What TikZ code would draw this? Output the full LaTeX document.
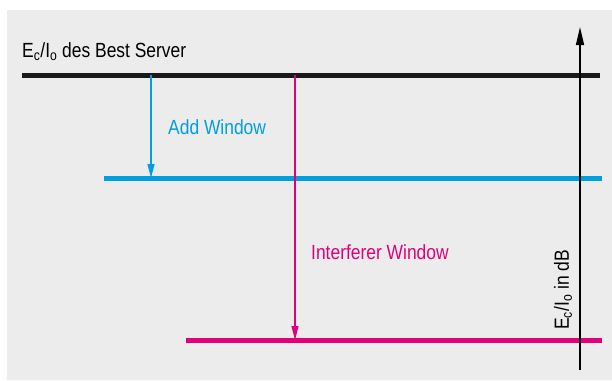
\documentclass[tikz,border=0pt]{standalone}
\usepackage{fontspec}
\setmainfont{Liberation Sans}[FakeStretch=0.85]
\usepackage{tikz}
\usetikzlibrary{arrows.meta}
\definecolor{bggray}{HTML}{ECECEC}
\definecolor{addblue}{HTML}{009FDF}
\definecolor{intmagenta}{HTML}{E2007A}
\tikzset{
    level/.style={line width=5pt},
    window/.style={line width=1.1pt, -{Triangle[length=14pt,width=7pt]}},
    lbl/.style={font=\fontsize{20.5}{20.5}\selectfont, inner sep=0pt}
}

\begin{document}
\begin{tikzpicture}[x=1pt,y=-1pt]
                %Background
                \fill[white] (0,0) rectangle (612,380);
                \fill[bggray] (7,10) rectangle (612,380);

                %Nodes
                \coordinate (bs1)  at (22,75);
                \coordinate (bs2)  at (600,75);
                \coordinate (add1) at (104,178);
                \coordinate (add2) at (602,178);
                \coordinate (int1) at (186,340);
                \coordinate (int2) at (602,340);
                \coordinate (addtop) at (151,75);
                \coordinate (addbot) at (151,178);
                \coordinate (inttop) at (295,75);
                \coordinate (intbot) at (295,340);
                \coordinate (axbot) at (580,370);
                \coordinate (axtop) at (580,27);

                \node[lbl, anchor=west] at (22,52) (bestlbl) {E\textsubscript{c}/I\textsubscript{o} des Best Server};
                \node[lbl, anchor=west, text=addblue] at (168,127) (addlbl) {Add Window};
                \node[lbl, anchor=west, text=intmagenta] at (311,252) (intlbl) {Interferer Window};
                \node[lbl, rotate=90] at (563,290) (axlbl) {E\textsubscript{c}/I\textsubscript{o} in dB};

                %Lines
                \draw[level, black!90] (bs1) -- (bs2);
                \draw[level, addblue] (add1) -- (add2);
                \draw[level, intmagenta] (int1) -- (int2);
                \draw[window, addblue] (addtop) -- (addbot);
                \draw[window, intmagenta] (inttop) -- (intbot);
                \draw[line width=1.4pt, -{Triangle[length=18pt,width=8pt]}] (axbot) -- (axtop);
\end{tikzpicture}
\end{document}
